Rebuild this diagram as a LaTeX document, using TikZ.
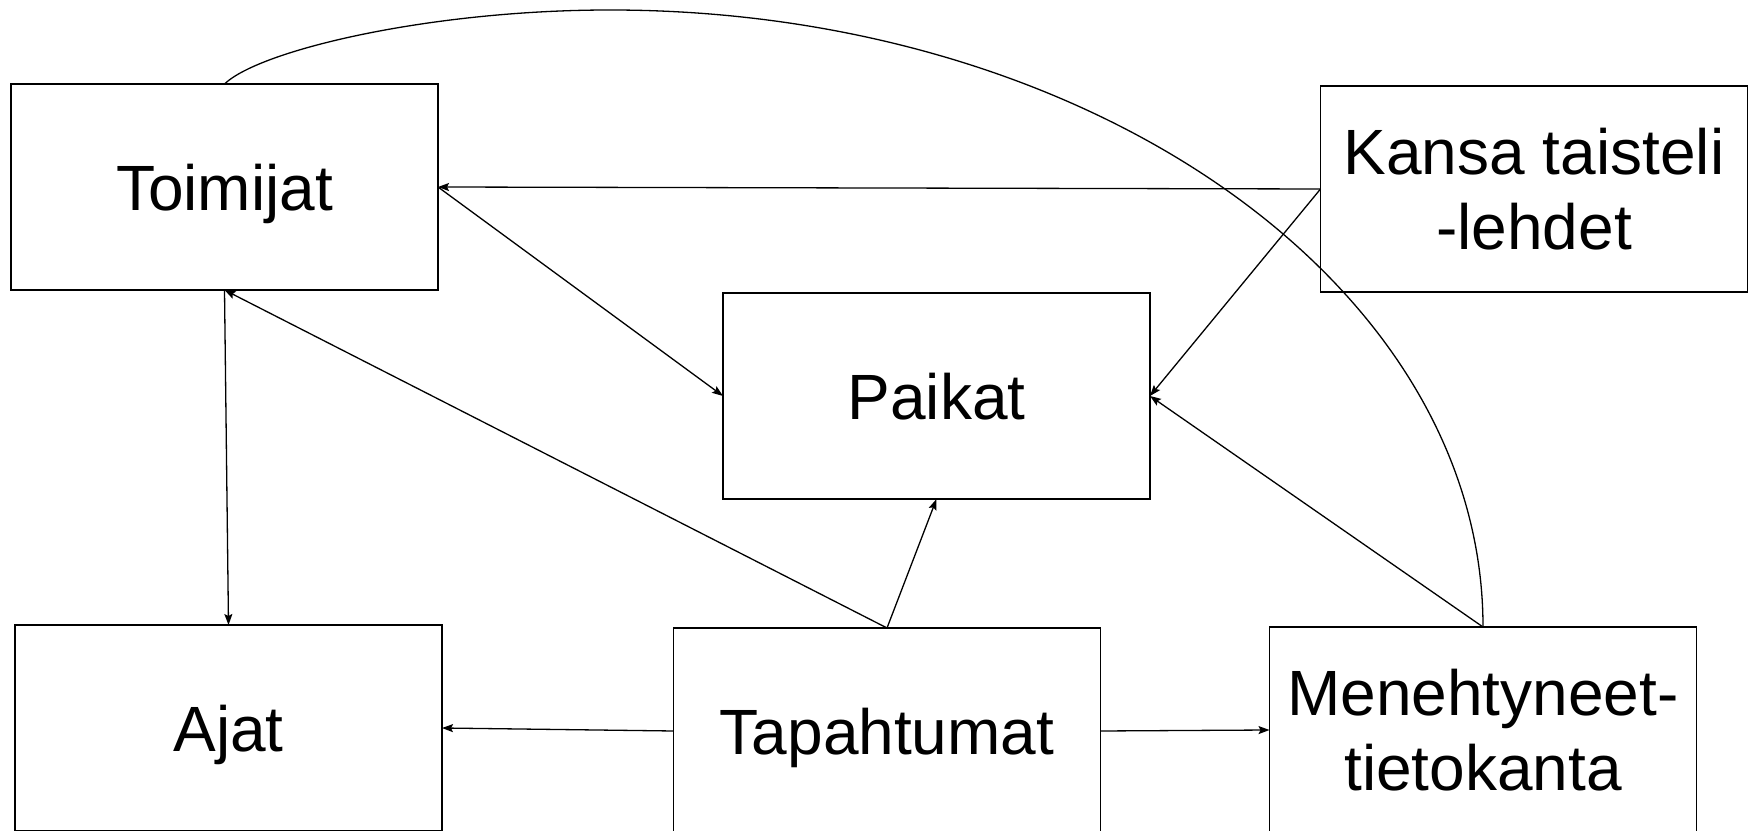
\documentclass[tikz,border=0pt]{standalone}
\usepackage{fontspec}
\setmainfont{Liberation Sans}
\usetikzlibrary{arrows.meta}

\begin{document}
\begin{tikzpicture}[x=1pt, y=1pt,
  box/.style={draw, line width=1.8pt, minimum width=427pt, minimum height=206pt,
    inner sep=0pt, outer sep=0pt, text depth=0pt, align=center,
    font=\fontsize{64}{75}\selectfont},
  link/.style={black, line width=1.3pt, ->, >={Stealth[length=11pt, width=8pt, inset=2pt]}}]
\useasboundingbox (0,0) rectangle (1756,830);
\clip (0,0) rectangle (1756,830);
\node[box] (toimijat) at (224.5,643) {Toimijat};
\node[box] (kansa) at (1534,641) {Kansa taisteli\\-lehdet};
\node[box] (paikat) at (936.5,434) {Paikat};
\node[box] (ajat) at (228.5,102) {Ajat};
\node[box] (tapahtumat) at (887,99) {Tapahtumat};
\node[box] (menehtyneet) at (1483,100) {Menehtyneet-\\tietokanta};
\coordinate (arctop) at (610,820);
\draw[link] (kansa.west) -- (toimijat.east);
\draw[link] (kansa.west) -- (paikat.east);
\draw[link] (toimijat.east) -- (paikat.west);
\draw[link] (tapahtumat.north) -- (toimijat.south);
\draw[link] (toimijat.south) -- (ajat.north);
\draw[link] (tapahtumat.north) -- (paikat.south);
\draw[link] (menehtyneet.north) -- (paikat.east);
\draw[link] (tapahtumat.west) -- (ajat.east);
\draw[link] (tapahtumat.east) -- (menehtyneet.west);
\draw[black, line width=1.3pt] (menehtyneet.north) .. controls (1483,544) and (1092,820) .. (arctop)
  .. controls (430,820) and (260,780) .. (toimijat.north);
\end{tikzpicture}
\end{document}
